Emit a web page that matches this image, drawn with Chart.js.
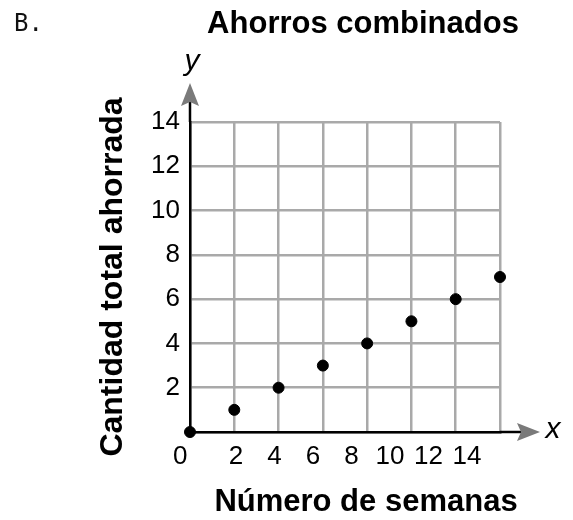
<!DOCTYPE html>
<html lang="es">
<head>
    <meta charset="UTF-8">
    <title>Ahorros combinados</title>
    <script src="https://cdn.jsdelivr.net/npm/chart.js"></script>
    <style>
        body { margin: 0; padding: 0; background: #fff; }
        #chart { display: block; }
    </style>
</head>
<body>

<canvas id="chart" width="573" height="520"></canvas>

<script>
    // Data
    const weeks = [0, 2, 4, 6, 8, 10, 12, 14];
    const savings = [0, 1, 2, 3, 4, 5, 6, 7];
    const xTickLabels = ['0', '2', '4', '6', '8', '10', '12', '14'];
    const yTickValues = [2, 4, 6, 8, 10, 12, 14];

    const chartTitle = 'Ahorros combinados';
    const xTitle = 'Número de semanas';
    const yTitle = 'Cantidad total ahorrada';
    const panelLabel = 'B.';

    const FONT = "'Liberation Sans', Arial, sans-serif";
    const GRID = '#a9a9a9';

    // arrows, axis letters and the text that sits off-centre
    const decor = {
        id: 'decor',
        afterDraw(chart) {
            const ctx = chart.ctx;
            const a = chart.chartArea;
            ctx.save();

            // y axis arrow
            ctx.strokeStyle = '#000';
            ctx.lineWidth = 2.5;
            ctx.beginPath();
            ctx.moveTo(a.left, a.top);
            ctx.lineTo(a.left, a.top - 22);
            ctx.stroke();
            ctx.fillStyle = '#7a7a7a';
            ctx.beginPath();
            ctx.moveTo(a.left, a.top - 39);
            ctx.lineTo(a.left + 9, a.top - 16);
            ctx.lineTo(a.left, a.top - 20);
            ctx.lineTo(a.left - 9, a.top - 16);
            ctx.closePath();
            ctx.fill();

            // x axis arrow
            ctx.beginPath();
            ctx.moveTo(a.right, a.bottom);
            ctx.lineTo(a.right + 22, a.bottom);
            ctx.stroke();
            ctx.beginPath();
            ctx.moveTo(a.right + 40, a.bottom);
            ctx.lineTo(a.right + 17, a.bottom - 9);
            ctx.lineTo(a.right + 21, a.bottom);
            ctx.lineTo(a.right + 17, a.bottom + 9);
            ctx.closePath();
            ctx.fill();

            ctx.fillStyle = '#000';
            ctx.textAlign = 'center';
            ctx.textBaseline = 'middle';
            ctx.font = 'italic 30px ' + FONT;
            ctx.fillText('y', a.left + 2, a.top - 60);
            ctx.fillText('x', a.right + 53, a.bottom - 2);

            ctx.font = 'bold 31px ' + FONT;
            ctx.fillText(chartTitle, (a.left + a.right) / 2 + 18, 24);
            ctx.fillText(xTitle, (a.left + a.right) / 2 + 21, a.bottom + 70);

            ctx.font = "24px 'DejaVu Sans Mono', monospace";
            ctx.textAlign = 'left';
            ctx.textBaseline = 'alphabetic';
            ctx.fillStyle = '#111';
            ctx.fillText(panelLabel, 14, 31);
            ctx.restore();
        }
    };

    const ctx = document.getElementById('chart').getContext('2d');
    const chart = new Chart(ctx, {
        type: 'scatter',
        data: {
            datasets: [{
                data: weeks.map((w, i) => ({ x: w, y: savings[i] })),
                backgroundColor: '#000',
                borderColor: '#000',
                pointRadius: 5.5,
                pointHoverRadius: 5.5,
                clip: false
            }]
        },
        options: {
            responsive: false,
            animation: false,
            events: [],
            layout: { padding: { left: 92, right: 73, top: 122, bottom: 0 } },
            plugins: {
                legend: { display: false },
                tooltip: { enabled: false }
            },
            scales: {
                x: {
                    type: 'linear',
                    min: 0,
                    max: 14,
                    ticks: { display: false, stepSize: 2 },
                    grid: { color: GRID, lineWidth: 2.5, drawTicks: false },
                    border: { color: '#000', width: 2.5 },
                    afterFit: s => { s.height = 0; }
                },
                // second bottom axis that only carries the squeezed week labels
                x2: {
                    type: 'linear',
                    position: 'bottom',
                    min: -0.39,
                    max: 15.71,
                    grid: { display: false, drawTicks: false },
                    border: { display: false },
                    afterBuildTicks: s => {
                        // the origin label sits left of the y axis
                        s.ticks = xTickLabels.map(l => ({ value: l === '0' ? -0.9 : Number(l) }));
                    },
                    ticks: {
                        padding: 9,
                        maxRotation: 0,
                        autoSkip: false,
                        color: '#000',
                        font: { family: FONT, size: 26 },
                        callback: (v, i) => xTickLabels[i]
                    },
                    afterFit: s => { s.height = 88; }
                },
                y: {
                    min: 0,
                    max: 14,
                    afterBuildTicks: s => {
                        s.ticks = [0].concat(yTickValues).map(v => ({ value: v }));
                    },
                    ticks: {
                        padding: 10,
                        color: '#000',
                        font: { family: FONT, size: 26 },
                        callback: v => (yTickValues.includes(v) ? String(v) : '')
                    },
                    grid: { color: GRID, lineWidth: 2.5, drawTicks: false },
                    border: { color: '#000', width: 2.5 },
                    title: {
                        display: true,
                        text: yTitle,
                        color: '#000',
                        padding: { top: 2, bottom: 0 },
                        font: { family: FONT, size: 32, weight: 'bold' }
                    },
                    afterFit: s => { s.width = 98; }
                }
            }
        },
        plugins: [decor]
    });
</script>

</body>
</html>
